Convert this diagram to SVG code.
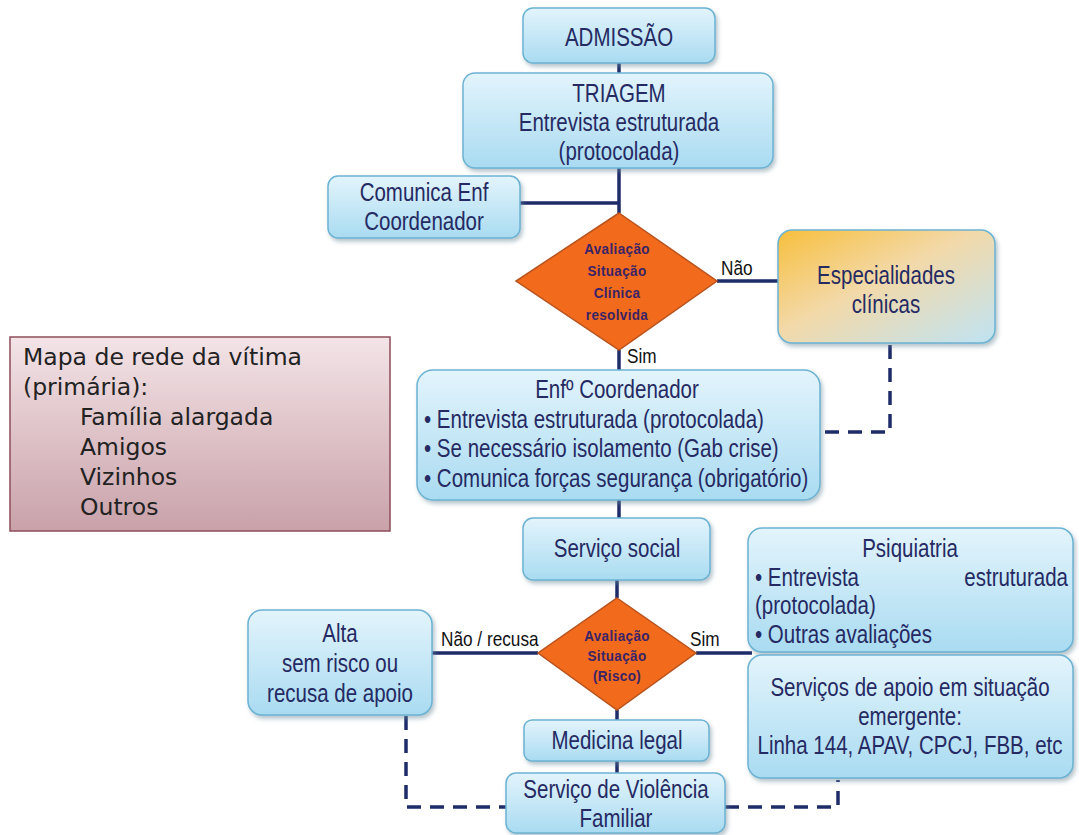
<svg xmlns="http://www.w3.org/2000/svg" width="1079" height="835" viewBox="0 0 1079 835">
<defs>
<linearGradient id="gBlue" x1="0" y1="0" x2="0" y2="1">
<stop offset="0" stop-color="#e3f4fc"/>
<stop offset="1" stop-color="#a9dbf1"/>
</linearGradient>
<linearGradient id="gOrange" x1="0" y1="0" x2="1" y2="1">
<stop offset="0" stop-color="#f7bf3c"/>
<stop offset="0.45" stop-color="#f3d9a8"/>
<stop offset="1" stop-color="#bfe3f4"/>
</linearGradient>
<linearGradient id="gPink" x1="0" y1="0" x2="0" y2="1">
<stop offset="0" stop-color="#f3e4e7"/>
<stop offset="1" stop-color="#c9a1a9"/>
</linearGradient>
<filter id="sh" x="-10%" y="-10%" width="125%" height="130%">
<feDropShadow dx="2" dy="3" stdDeviation="2" flood-color="#6a8a99" flood-opacity="0.5"/>
</filter>
</defs>
<style>
.box{fill:url(#gBlue);stroke:#6cb3d3;stroke-width:1.5;filter:url(#sh)}
.t{font-family:"Liberation Sans",Arial,sans-serif;font-size:25px;fill:#252a63;text-anchor:middle}
.tl{font-family:"Liberation Sans",Arial,sans-serif;font-size:25px;fill:#252a63}
.dm{fill:#f26a1c;stroke:#b9531d;stroke-width:1.5}
.dt{font-family:"Liberation Sans",Arial,sans-serif;font-size:15px;font-weight:bold;fill:#3b2466;text-anchor:middle;letter-spacing:0.4px}
.lb{font-family:"Liberation Sans",Arial,sans-serif;font-size:21px;fill:#111}
.ln{fill:none;stroke:#1e2d6a;stroke-width:3.5}
.ds{fill:none;stroke:#1e2d6a;stroke-width:3.5;stroke-dasharray:14 9}
.mp{font-family:"DejaVu Sans",Verdana,sans-serif;font-size:23.5px;fill:#222}
</style>
<g id="connectors">
<path class="ln" d="M619 63V73M619 168V213M520 203H619M717 281H778M619 350V370M619 500V518M617 580V598M432 653H538M696 653H752M617 710V720M617 761V773"/>
<path class="ds" d="M890 345V432H822"/>
<path class="ds" d="M406 716V807H506"/>
<path class="ds" d="M725 807H838V780"/>
</g>
<g id="admissao"><rect class="box" x="523" y="8" width="192" height="55" rx="10"/><text class="t" transform="translate(619 46) scale(0.82 1)" font-size="27">ADMISSÃO</text></g>
<g id="triagem"><rect class="box" x="463" y="73" width="310" height="95" rx="12"/>
<text class="t" transform="translate(619 102) scale(0.82 1)">TRIAGEM</text><text class="t" transform="translate(619 131) scale(0.82 1)">Entrevista estruturada</text><text class="t" transform="translate(619 160) scale(0.82 1)">(protocolada)</text></g>
<g id="comunica"><rect class="box" x="328" y="176" width="192" height="62" rx="10"/>
<text class="t" transform="translate(424 201) scale(0.82 1)">Comunica Enf</text><text class="t" transform="translate(424 230) scale(0.82 1)">Coordenador</text></g>
<g id="decisao1"><polygon class="dm" points="619,213 717,281 619,350 516,281"/>
<text class="dt" transform="translate(617 254) scale(0.9 1)">Avaliação</text><text class="dt" transform="translate(617 276) scale(0.9 1)">Situação</text><text class="dt" transform="translate(617 298) scale(0.9 1)">Clínica</text><text class="dt" transform="translate(617 320) scale(0.9 1)">resolvida</text></g>
<text class="lb" transform="translate(721 275) scale(0.82 1)">Não</text>
<text class="lb" transform="translate(627 363) scale(0.82 1)">Sim</text>
<g id="especialidades"><rect x="778" y="230" width="217" height="113" rx="14" fill="url(#gOrange)" stroke="#6cb3d3" stroke-width="1.5" filter="url(#sh)"/>
<text class="t" transform="translate(886 284) scale(0.82 1)">Especialidades</text><text class="t" transform="translate(886 313) scale(0.82 1)">clínicas</text></g>
<g id="mapa"><rect x="10" y="337" width="380" height="194" fill="url(#gPink)" stroke="#8d4d59" stroke-width="1.5"/>
<text class="mp" x="23" y="365">Mapa de rede da vítima</text>
<text class="mp" x="23" y="395">(primária):</text>
<text class="mp" x="80" y="425">Família alargada</text>
<text class="mp" x="80" y="455">Amigos</text>
<text class="mp" x="80" y="485">Vizinhos</text>
<text class="mp" x="80" y="515">Outros</text></g>
<g id="enf"><rect class="box" x="417" y="370" width="403" height="130" rx="16"/>
<text class="t" transform="translate(617 398) scale(0.82 1)">Enfº Coordenador</text>
<text class="tl" transform="translate(424 428) scale(0.82 1)">• Entrevista estruturada (protocolada)</text>
<text class="tl" transform="translate(424 457) scale(0.82 1)">• Se necessário isolamento (Gab crise)</text>
<text class="tl" transform="translate(424 487) scale(0.82 1)">• Comunica forças segurança (obrigatório)</text></g>
<g id="social"><rect class="box" x="523" y="518" width="187" height="62" rx="10"/><text class="t" transform="translate(617 557) scale(0.82 1)">Serviço social</text></g>
<g id="decisao2"><polygon class="dm" points="617,598 696,653 617,710 538,653"/>
<text class="dt" transform="translate(617 641) scale(0.9 1)">Avaliação</text><text class="dt" transform="translate(617 661) scale(0.9 1)">Situação</text><text class="dt" transform="translate(617 681) scale(0.9 1)">(Risco)</text></g>
<text class="lb" transform="translate(441 646) scale(0.82 1)">Não / recusa</text>
<text class="lb" transform="translate(690 646) scale(0.82 1)">Sim</text>
<g id="alta"><rect class="box" x="248" y="610" width="184" height="105" rx="14"/>
<text class="t" transform="translate(340 642) scale(0.82 1)">Alta</text><text class="t" transform="translate(340 672) scale(0.82 1)">sem risco ou</text><text class="t" transform="translate(340 702) scale(0.82 1)">recusa de apoio</text></g>
<g id="psiquiatria"><rect class="box" x="748" y="528" width="325" height="124" rx="14"/>
<text class="t" transform="translate(910 557) scale(0.82 1)">Psiquiatria</text>
<text class="tl" transform="translate(755 586) scale(0.82 1)">• Entrevista</text>
<text class="tl" transform="translate(1068 586) scale(0.82 1)" text-anchor="end">estruturada</text>
<text class="tl" transform="translate(755 614) scale(0.82 1)">(protocolada)</text>
<text class="tl" transform="translate(755 643) scale(0.82 1)">• Outras avaliações</text></g>
<g id="apoio"><rect class="box" x="748" y="655" width="325" height="123" rx="14"/>
<text class="t" transform="translate(910 696) scale(0.82 1)">Serviços de apoio em situação</text>
<text class="t" transform="translate(910 725) scale(0.82 1)">emergente:</text>
<text class="t" transform="translate(910 754) scale(0.82 1)">Linha 144, APAV, CPCJ, FBB, etc</text></g>
<g id="medicina"><rect class="box" x="524" y="720" width="185" height="41" rx="8"/><text class="t" transform="translate(617 749) scale(0.82 1)">Medicina legal</text></g>
<g id="violencia"><rect class="box" x="506" y="773" width="219" height="60" rx="10"/>
<text class="t" transform="translate(616 798) scale(0.82 1)">Serviço de Violência</text><text class="t" transform="translate(616 827) scale(0.82 1)">Familiar</text></g>
</svg>
